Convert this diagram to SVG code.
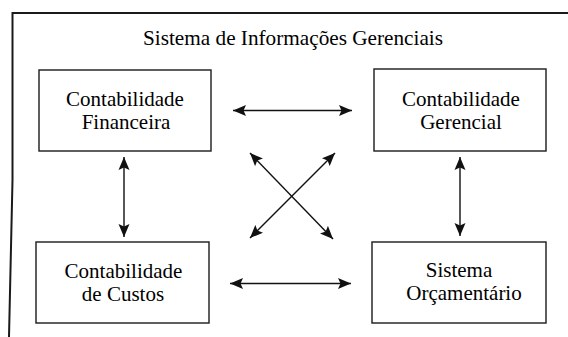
<svg xmlns="http://www.w3.org/2000/svg" width="568" height="337" viewBox="0 0 568 337">
<style>
  .frame { fill: none; stroke: #1a1a1a; stroke-width: 2; }
  .box { fill: #ffffff; stroke: #1a1a1a; stroke-width: 1.4; }
  .lbl { font-family: "Liberation Serif", "DejaVu Serif", serif; font-size: 21px; fill: #000000; text-anchor: middle; }
  .title { font-family: "Liberation Serif", "DejaVu Serif", serif; font-size: 21px; fill: #000000; }
  .conn line { stroke: #111111; stroke-width: 1.4; marker-start: url(#ah); marker-end: url(#ah); }
</style>
<defs>
  <marker id="ah" markerUnits="userSpaceOnUse" markerWidth="14" markerHeight="12" viewBox="0 0 14 12" refX="13" refY="6" orient="auto-start-reverse">
    <path d="M0,0.5 L13,6 L0,11.5 L2.5,6 z" fill="#111111"/>
  </marker>
</defs>
<rect width="568" height="337" fill="#ffffff"/>
<polyline class="frame" points="568,13 12.5,13 12.5,180 9,337"/>
<text class="title" x="143" y="45" textLength="300" lengthAdjust="spacingAndGlyphs">Sistema de Informações Gerenciais</text>
<g id="contabilidade-financeira">
  <rect class="box" x="39" y="70" width="172" height="81"/>
  <text class="lbl" x="125" y="105.5">Contabilidade</text>
  <text class="lbl" x="126" y="129">Financeira</text>
</g>
<g id="contabilidade-gerencial">
  <rect class="box" x="374" y="69" width="172" height="82"/>
  <text class="lbl" x="461" y="105.5">Contabilidade</text>
  <text class="lbl" x="461" y="129">Gerencial</text>
</g>
<g id="contabilidade-custos">
  <rect class="box" x="36" y="242" width="173" height="81"/>
  <text class="lbl" x="123.5" y="278">Contabilidade</text>
  <text class="lbl" x="123" y="301">de Custos</text>
</g>
<g id="sistema-orcamentario">
  <rect class="box" x="372" y="242" width="174" height="81"/>
  <text class="lbl" x="459" y="276.5">Sistema</text>
  <text class="lbl" x="464" y="300">Orçamentário</text>
</g>
<g id="connectors" class="conn">
  <line x1="233" y1="110.5" x2="352" y2="110.5"/>
  <line x1="230" y1="283.5" x2="351" y2="283.5"/>
  <line x1="124" y1="157" x2="124" y2="237"/>
  <line x1="460" y1="157" x2="460" y2="236"/>
  <line x1="250" y1="153" x2="333" y2="239"/>
  <line x1="335" y1="153" x2="250" y2="238"/>
</g>
</svg>
